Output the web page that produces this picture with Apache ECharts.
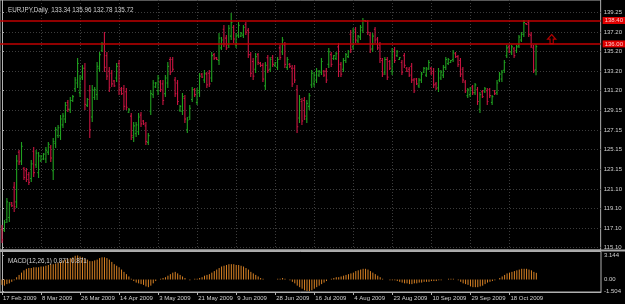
<!DOCTYPE html>
<html><head><meta charset="utf-8">
<script src="https://cdn.jsdelivr.net/npm/echarts@6/dist/echarts.min.js"></script>
<style>html,body{margin:0;padding:0;background:#000;}#c{width:625px;height:304px;}</style>
</head><body><div id="c"></div>
<script>
// ---- data (bar index = position on the daily axis) ----
const opens=[117.0,116.9,118.0,118.2,119.7,121.3,119.8,124.9,124.0,123.2,123.0,122.6,122.2,125.0,123.6,122.8,124.0,124.2,124.2,124.9,125.4,123.0,125.8,126.6,126.6,127.7,128.3,130.0,129.3,130.2,131.4,132.0,131.0,132.6,133.5,129.7,131.2,128.5,130.5,130.8,133.5,135.3,136.0,134.8,133.2,133.0,132.2,132.5,134.0,131.4,131.4,131.1,129.0,128.6,126.4,
126.8,127.0,128.7,128.1,127.6,125.9,129.1,130.8,131.6,131.2,132.1,131.9,130.9,132.0,134.4,134.4,132.3,132.0,129.2,129.1,130.4,127.2,128.5,130.3,131.3,130.0,131.0,132.9,132.3,132.9,133.0,132.5,134.9,134.6,134.3,135.6,137.5,136.6,135.9,136.8,137.7,135.9,136.9,136.8,136.9,138.0,137.4,134.9,134.2,133.4,134.9,134.0,133.8,131.7,134.6,
133.4,134.6,133.8,133.6,135.6,135.2,135.9,133.6,133.9,133.5,133.5,131.3,128.4,130.1,130.2,128.3,129.6,131.8,131.9,132.3,132.8,133.1,133.2,133.2,133.9,134.9,134.5,134.5,135.7,133.9,133.4,134.3,134.7,137.0,135.7,137.5,136.3,136.7,137.4,138.4,138.3,136.9,135.5,137.5,136.5,135.9,134.3,133.1,134.4,134.2,133.2,135.4,134.8,134.4,134.1,
134.8,133.5,133.4,133.7,132.3,132.4,131.7,132.3,133.1,132.8,133.5,133.5,133.2,131.9,131.5,132.5,132.8,133.6,134.0,134.1,134.4,135.0,134.7,134.3,133.4,132.1,130.7,130.8,131.6,131.0,131.3,129.3,131.1,131.1,131.2,131.3,130.0,131.2,131.0,132.3,132.4,133.3,134.8,135.7,135.1,135.5,135.3,135.8,136.4,137.0,138.1,138.2,136.9,135.6,133.34];
const highs=[117.43,117.94,120.20,119.79,119.79,121.84,124.61,125.12,125.94,123.38,123.27,122.86,124.10,125.43,125.12,124.91,124.61,124.81,125.43,125.94,125.63,126.35,127.48,127.68,128.71,128.91,130.04,130.25,130.56,130.76,132.61,134.56,132.81,133.84,134.04,130.45,131.79,131.79,131.58,134.15,135.17,136.20,137.22,135.17,133.63,133.33,132.30,134.04,134.35,131.58,131.79,131.48,129.43,128.91,127.99,
127.99,128.91,129.02,128.20,127.99,126.86,131.27,132.30,132.09,132.81,132.30,132.30,132.81,134.15,134.66,134.66,132.61,132.30,129.74,130.97,130.76,128.50,129.74,131.58,131.48,131.48,133.02,133.02,133.33,133.12,133.33,135.17,135.07,134.66,137.12,136.71,137.94,136.91,137.94,139.17,137.94,137.12,138.25,137.22,137.94,138.25,137.63,135.17,134.56,135.07,135.07,134.15,134.04,134.15,134.86,
134.66,134.86,134.15,134.66,135.89,136.71,136.20,134.66,134.04,133.84,133.84,131.79,130.76,130.45,130.56,130.25,130.97,133.33,133.12,133.53,133.33,134.56,133.33,133.53,135.58,135.17,134.86,135.17,136.10,134.15,134.56,135.07,135.38,137.43,137.63,137.74,136.91,137.94,138.66,138.45,138.45,137.22,137.12,137.74,136.71,136.20,134.56,134.66,134.66,134.35,135.58,135.68,135.38,134.66,134.35,
135.07,133.63,133.63,134.04,132.51,132.51,132.51,133.12,133.63,133.63,134.35,133.63,133.53,132.09,133.53,133.33,133.84,134.66,134.56,134.35,135.38,135.17,134.86,134.56,133.63,132.30,131.48,131.58,131.79,131.99,131.58,131.07,131.27,131.58,131.48,131.48,130.76,131.27,132.30,133.12,133.33,134.35,135.89,135.89,135.89,135.68,135.89,136.91,137.22,138.45,138.15,138.45,137.22,135.89,135.96];
const lows=[115.58,116.71,117.63,117.74,119.28,118.76,119.17,123.58,123.58,122.04,121.84,121.53,121.84,122.35,123.27,122.25,123.89,124.10,123.79,124.61,123.89,122.04,125.33,126.35,126.15,127.38,127.89,129.02,128.91,130.04,131.07,131.48,130.56,132.30,129.22,129.53,126.35,127.99,130.25,130.25,133.12,135.17,133.12,132.30,131.07,131.58,131.58,132.09,130.76,130.76,129.22,129.22,128.91,126.15,125.94,
126.45,126.66,127.48,127.68,125.63,125.63,128.71,130.45,131.48,130.76,131.07,129.74,130.56,131.48,132.81,133.12,130.56,129.74,129.02,128.71,127.89,126.86,128.20,130.04,130.56,129.74,130.56,132.51,131.99,131.48,131.58,132.09,134.35,134.35,133.84,135.38,135.68,135.38,135.58,136.40,136.10,135.58,136.61,136.71,136.61,136.91,134.56,132.61,132.30,133.02,133.84,133.63,132.09,131.27,133.02,
133.12,133.63,133.63,133.33,134.35,134.86,133.53,133.33,133.53,131.58,131.99,126.86,127.89,127.68,128.20,127.89,129.22,131.48,131.58,131.99,132.61,132.81,132.61,131.99,133.53,133.63,134.35,134.35,132.61,132.61,133.12,134.04,134.56,135.07,135.38,136.10,136.10,136.40,137.12,138.25,136.91,135.07,135.17,136.10,135.38,134.04,132.61,132.81,132.30,133.33,132.81,134.04,134.66,134.35,132.81,
133.53,133.12,132.61,131.99,130.97,131.79,131.48,131.99,133.02,132.61,133.33,132.81,131.48,131.27,131.07,132.30,132.51,133.33,133.84,134.04,134.15,134.56,133.63,132.61,131.99,130.97,130.45,130.56,130.76,130.76,129.74,128.91,130.45,130.97,129.74,130.45,129.74,130.76,130.76,132.09,132.09,133.02,134.56,135.07,134.86,134.56,135.07,135.58,136.20,136.71,137.94,136.71,135.58,133.02,132.78];
const closes=[115.9,117.7,119.8,119.5,119.4,119.3,124.0,123.9,125.5,122.3,122.1,121.8,123.7,122.8,124.8,124.5,124.5,124.7,125.1,125.7,124.3,126.0,127.2,127.4,128.3,128.6,129.7,129.3,130.2,130.6,132.3,134.0,132.4,133.5,129.8,130.3,127.2,131.3,131.3,133.7,134.9,136.0,133.6,132.7,131.5,131.9,131.7,133.7,131.3,130.9,129.6,129.5,129.3,126.6,127.6,
127.7,128.5,127.8,127.8,126.0,126.6,130.9,132.0,132.0,132.5,131.3,130.2,132.5,133.7,133.1,133.4,130.9,130.1,129.6,130.6,128.3,128.2,129.4,131.3,130.8,131.2,132.7,132.6,133.0,131.8,131.9,134.8,134.5,134.4,136.6,136.4,136.0,135.6,137.6,138.2,136.5,136.8,137.9,137.1,137.7,137.2,134.9,133.0,132.7,134.7,134.1,133.8,132.4,133.8,133.3,
134.4,133.9,134.1,134.4,134.6,136.4,133.9,134.4,133.7,131.9,132.3,127.5,130.3,128.1,128.6,129.9,130.7,133.0,132.8,133.2,133.2,134.2,132.8,132.3,135.2,133.9,134.8,135.0,133.2,132.9,134.3,134.9,135.2,135.4,137.3,136.4,136.8,137.7,138.4,138.3,137.2,135.4,136.8,136.4,135.6,134.5,132.9,134.4,132.6,133.5,135.2,134.3,135.2,134.6,133.1,
133.8,133.2,132.8,132.3,131.2,131.9,132.3,132.9,133.5,133.4,134.1,133.0,131.8,131.4,133.2,133.1,133.6,134.4,134.4,134.3,135.1,134.7,133.9,132.9,132.3,131.2,131.3,131.4,131.0,131.8,130.1,130.8,130.6,131.4,130.1,130.7,130.6,130.9,132.0,132.9,133.1,134.1,135.6,135.2,135.7,134.8,135.7,136.7,137.0,138.2,138.0,137.0,135.8,133.3,135.72];
const macd=[-0.7,-0.8,-0.6,-0.5,-0.3,-0.1,0.3,0.6,0.9,1.2,1.4,1.5,1.5,1.6,1.6,1.6,1.7,1.7,1.8,1.9,2.0,2.0,2.1,2.2,2.3,2.5,2.6,2.7,2.8,2.9,3.1,3.144,3.0,2.9,2.7,2.6,2.4,2.4,2.5,2.6,2.8,2.9,2.9,2.8,2.6,2.3,2.0,1.8,1.6,1.3,1.0,0.7,0.4,0.1,-0.2,
-0.4,-0.5,-0.6,-0.7,-0.9,-1.0,-0.8,-0.5,-0.2,0.0,0.1,0.2,0.3,0.5,0.7,0.9,1.0,0.8,0.6,0.4,0.2,0.0,-0.1,0.0,0.1,0.1,0.2,0.3,0.5,0.6,0.7,0.9,1.1,1.3,1.5,1.7,1.8,1.9,2.0,2.0,2.0,1.9,1.9,1.8,1.7,1.5,1.3,1.0,0.8,0.6,0.4,0.2,0.1,0.0,0.0,
0.0,0.0,0.0,0.1,0.1,0.2,0.1,0.0,-0.1,-0.3,-0.5,-0.8,-1.0,-1.2,-1.4,-1.5,-1.504,-1.4,-1.2,-1.0,-0.8,-0.6,-0.4,-0.2,0.0,0.1,0.2,0.3,0.3,0.4,0.5,0.6,0.7,0.8,0.9,1.1,1.2,1.3,1.4,1.4,1.3,1.1,0.9,0.7,0.5,0.3,0.1,0.0,0.0,-0.1,-0.1,-0.1,-0.2,-0.3,-0.4,
-0.5,-0.5,-0.6,-0.6,-0.5,-0.5,-0.4,-0.4,-0.3,-0.3,-0.3,-0.2,-0.2,-0.2,-0.1,-0.1,0.0,0.0,0.1,0.1,0.1,0.0,-0.1,-0.3,-0.5,-0.6,-0.7,-0.9,-1.0,-1.0,-1.0,-0.9,-0.8,-0.6,-0.4,-0.3,-0.2,-0.1,0.0,0.2,0.4,0.6,0.8,0.9,1.0,1.1,1.2,1.3,1.4,1.4,1.4,1.3,1.2,1.0,0.871];
const priceTicks=[115.10,117.10,119.10,121.10,123.15,125.15,127.15,129.15,131.20,133.20,135.20,137.20,139.25];
const macdTicks=[-1.504,0,3.144];
const macdTickText=['-1.504','0.00','3.144'];
const dateIdx=[0,16,32,48,64,80,96,112,128,144,160,176,192,208];
const dateLabels=['17 Feb 2009','8 Mar 2009','26 Mar 2009','14 Apr 2009','3 May 2009','21 May 2009','9 Jun 2009','28 Jun 2009','16 Jul 2009','4 Aug 2009','23 Aug 2009','10 Sep 2009','29 Sep 2009','18 Oct 2009'];
const hLines=[138.40,136.00];
const lastPrice=135.72;
const arrowPoint=[225.4,136.5];
const titleText='EURJPY,Daily  133.34 135.96 132.78 135.72';
const macdTitle='MACD(12,26,1) 0.871 0.871';

// ---- chart ----
const XMIN=-0.82, XMAX=245.5;
const FONT='Liberation Sans, Arial, sans-serif';
const TXT='#d0d0d0', FRAME='#b0b0b0', GRID='#3c3c3c';
const BULL='#20a020', BEAR='#c81440', MACDC='#d98224';
const ohlc=opens.map((o,i)=>[i,o,highs[i],lows[i],closes[i]]);
const macdData=macd.map((v,i)=>[i,v]);

const chart=echarts.init(document.getElementById('c'),null,{renderer:'canvas'});
chart.setOption({
  backgroundColor:'#000',
  animation:false,
  title:[
    {text:titleText,left:3,top:2,textStyle:{fontFamily:FONT,fontSize:6.3,color:TXT,fontWeight:'normal'}},
    {text:macdTitle,left:3,top:253.5,textStyle:{fontFamily:FONT,fontSize:6.3,color:TXT,fontWeight:'normal'}}
  ],
  grid:[
    {left:0,right:24,top:0,height:250,show:true,borderColor:FRAME,borderWidth:1},
    {left:0,right:24,top:251.5,height:40.5,show:true,borderColor:FRAME,borderWidth:1}
  ],
  xAxis:[
    {type:'value',gridIndex:0,min:XMIN,max:XMAX,axisLine:{show:false},
     axisTick:{show:false,customValues:dateIdx},axisLabel:{show:false,customValues:dateIdx},
     splitLine:{show:true,lineStyle:{color:GRID,type:[1,2],width:1}}},
    {type:'value',gridIndex:1,min:XMIN,max:XMAX,axisLine:{show:true,onZero:false,lineStyle:{color:FRAME}},
     axisTick:{show:true,customValues:dateIdx,length:3,lineStyle:{color:FRAME}},
     axisLabel:{customValues:dateIdx,formatter:v=>dateLabels[dateIdx.indexOf(Math.round(v))]||'',
       fontFamily:FONT,fontSize:6,color:TXT,align:'left',margin:3,padding:[0,0,0,1]},
     splitLine:{show:false}}
  ],
  yAxis:[
    {type:'value',gridIndex:0,position:'right',min:114.865,max:140.505,
     axisLine:{show:true,lineStyle:{color:FRAME}},
     axisTick:{show:true,customValues:priceTicks,length:2,lineStyle:{color:FRAME}},
     axisLabel:{customValues:priceTicks,formatter:v=>v.toFixed(2),fontFamily:FONT,fontSize:6,color:TXT,margin:3},
     splitLine:{show:true,lineStyle:{color:GRID,type:[1,2],width:1}}},
    {type:'value',gridIndex:1,position:'right',min:-1.63,max:3.66,
     axisLine:{show:true,lineStyle:{color:FRAME}},
     axisTick:{show:true,customValues:macdTicks,length:2,lineStyle:{color:FRAME}},
     axisLabel:{customValues:macdTicks,formatter:v=>macdTickText[macdTicks.indexOf(v)]||String(v),fontFamily:FONT,fontSize:6,color:TXT,margin:3},
     splitLine:{show:false}}
  ],
  graphic:[
    {type:'rect',shape:{x:0,y:249.5,width:625,height:2},style:{fill:'#a8a8a8'},z:100}
  ],
  series:[
    {type:'custom',xAxisIndex:0,yAxisIndex:0,data:ohlc,clip:false,
     renderItem:(p,api)=>{
       const i=api.value(0),o=api.value(1),h=api.value(2),l=api.value(3),c=api.value(4);
       const ph=api.coord([i,h]),pl=api.coord([i,l]),po=api.coord([i,o]),pc=api.coord([i,c]);
       const x=ph[0];const col=c>=o?BULL:BEAR;
       const st={stroke:col,lineWidth:1.1};
       return {type:'group',children:[
         {type:'line',shape:{x1:x,y1:ph[1],x2:x,y2:pl[1]},style:st},
         {type:'line',shape:{x1:x-1.2,y1:po[1],x2:x,y2:po[1]},style:st},
         {type:'line',shape:{x1:x,y1:pc[1],x2:x+1.2,y2:pc[1]},style:st}
       ]};
     },
     markLine:{silent:true,symbol:'none',animation:false,
       data:hLines.map(v=>({yAxis:v,lineStyle:{color:'#c00000',width:1.5,type:'solid'},
         label:{show:true,position:'end',formatter:v.toFixed(2),backgroundColor:'#e00000',color:'#ffc8c8',
           fontFamily:FONT,fontSize:6,padding:[1,2,0,2],distance:2}}))
         .concat([{yAxis:lastPrice,lineStyle:{opacity:0},
           label:{show:true,position:'end',formatter:lastPrice.toFixed(2),backgroundColor:'#ffffff',color:'#000',
           fontFamily:FONT,fontSize:6,padding:[1,2,0,2],distance:2}}])
     }},
    {type:'custom',xAxisIndex:1,yAxisIndex:1,data:macdData,
     renderItem:(p,api)=>{
       const i=api.value(0),v=api.value(1);
       const a=api.coord([i,0]),b=api.coord([i,v]);
       return {type:'line',shape:{x1:a[0],y1:a[1],x2:b[0],y2:b[1]},style:{stroke:MACDC,lineWidth:1}};
     }},
    {type:'scatter',xAxisIndex:0,yAxisIndex:0,data:[arrowPoint],
     symbol:'path://M5,0 L10,5 L7,5 L7,10 L3,10 L3,5 L0,5 Z',symbolSize:[8,9],
     itemStyle:{color:'rgba(0,0,0,0)',borderColor:'#e00000',borderWidth:1.2}}
  ]
});
</script>
</body></html>
